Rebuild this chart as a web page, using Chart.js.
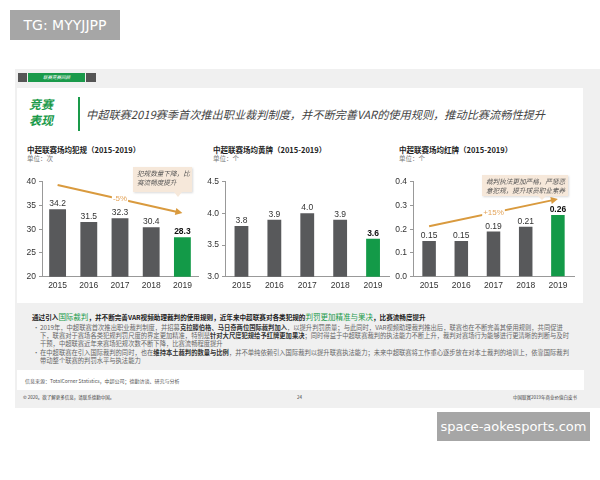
<!DOCTYPE html>
<html lang="zh">
  <head>
    <meta charset="UTF-8" />
    <title>中超联赛 竞赛表现</title>
    <script src="https://cdn.jsdelivr.net/npm/chart.js@4.4.1/dist/chart.umd.min.js"></script>
    <style>
      body { margin: 0; width: 600px; height: 480px; position: relative; background: #fff; overflow: hidden;
             font-family: "Noto Sans CJK SC", "Noto Sans", sans-serif; }
      .abs { position: absolute; }
      .wm { background: #a6a6a6; color: #fff; font-family: "DejaVu Sans", sans-serif; }
      .ctitle { font-size: 7.5px; font-weight: bold; color: #222; white-space: nowrap; }
      .cunit { font-size: 6.5px; color: #777; white-space: nowrap; }
      .callout { background: #f6e8da; box-shadow: 1px 1px 2px rgba(0,0,0,0.15); font-size: 6.6px; font-style: italic;
                 color: #555; line-height: 9px; padding: 2px 4px; box-sizing: border-box; white-space: nowrap; }
      .body { font-size: 6.3px; color: #666; white-space: nowrap; line-height: 8px; }
      .body b { color: #333; }
      .g { color: #1a9a4a; }
    </style>
  </head>
  <body>
    <div class="abs wm" style="left:10px;top:10px;width:110px;height:30px;font-size:14px;line-height:30px;text-align:center;">TG: MYYJJPP</div>

    <!-- slide -->
    <div class="abs" style="left:15px;top:69px;width:585px;height:339px;background:#f0f0f0;"></div>
    <div class="abs" style="left:17px;top:88px;width:566px;height:215px;background:#fff;"></div>
    <div class="abs" style="left:17px;top:370px;width:567px;height:20px;background:#fff;"></div>

    <!-- tab -->
    <div class="abs" style="left:18px;top:73px;width:9px;height:9px;background:#555;"></div>
    <div class="abs" style="left:28px;top:73px;width:57px;height:9px;background:#1a9a4a;color:#fff;font-size:4.5px;line-height:9px;text-align:center;font-style:italic;">联赛竞赛回顾</div>
    <div class="abs" style="left:86px;top:73px;width:10px;height:9px;background:#555;"></div>

    <!-- header -->
    <div class="abs" style="left:29px;top:96px;font-size:12px;line-height:16px;color:#1a9a4a;font-style:italic;font-weight:bold;">竞赛<br />表现</div>
    <div class="abs" style="left:78px;top:97px;width:2px;height:34px;background:#1a9a4a;"></div>
    <div class="abs" style="left:86px;top:106px;font-size:11.2px;line-height:16px;color:#444;font-style:italic;white-space:nowrap;">中超联赛2019赛季首次推出职业裁判制度，并不断完善VAR的使用规则，推动比赛流畅性提升</div>

    <!-- chart titles -->
    <div class="abs ctitle" style="left:27px;top:144px;">中超联赛场均犯规（2015-2019）</div>
    <div class="abs cunit" style="left:27px;top:153px;">单位：次</div>
    <div class="abs ctitle" style="left:213px;top:144px;">中超联赛场均黄牌（2015-2019）</div>
    <div class="abs cunit" style="left:213px;top:153px;">单位：个</div>
    <div class="abs ctitle" style="left:399px;top:144px;">中超联赛场均红牌（2015-2019）</div>
    <div class="abs cunit" style="left:399px;top:153px;">单位：个</div>

    <canvas id="fouls" class="abs" width="180" height="125" style="left:20px;top:170px;"></canvas>
    <canvas id="yellows" class="abs" width="191" height="125" style="left:201px;top:170px;"></canvas>
    <canvas id="reds" class="abs" width="186" height="125" style="left:391px;top:170px;"></canvas>

    <div class="abs callout" style="left:133px;top:167px;width:59px;height:25px;">犯规数量下降，比<br />赛流畅度提升</div>
    <div class="abs" style="left:174px;top:192px;width:0;height:0;border-top:5px solid #f6e8da;border-left:4px solid transparent;border-right:4px solid transparent;"></div>
    <div class="abs callout" style="left:482px;top:175px;width:86px;height:21px;">裁判执法更加严格，严惩恶<br />意犯规，提升球员职业素养</div>
    <div class="abs" style="left:538px;top:196px;width:0;height:0;border-top:4px solid #f6e8da;border-left:4px solid transparent;border-right:4px solid transparent;"></div>

    <!-- text block -->
    <div class="abs body" style="left:32px;top:313px;font-size:6.6px;color:#222;font-weight:bold;">通过引入<span class="g" style="font-weight:normal;font-size:7.5px;">国际裁判</span>，并不断完善VAR视频助理裁判的使用规则，近年来中超联赛对各类犯规的<span class="g" style="font-weight:normal;font-size:7.5px;">判罚更加精准与果决</span>，比赛流畅度提升</div>
    <div class="abs body" style="left:33px;top:324px;">•</div>
    <div class="abs body" style="left:40px;top:324px;">2019年，中超联赛首次推出职业裁判制度，并招募<b>克拉滕伯格、马日奇两位国际裁判加入</b>，以提升判罚质量；与此同时，VAR视频助理裁判推出后，联赛也在不断完善其使用规则，共同促进<br />下，联赛对于赛场各类犯规判罚尺度的界定更加精准，特别是<b>针对大尺度犯规给予红牌更加果决</b>；同时得益于中超联赛裁判的执法能力不断上升，裁判对赛场行为能够进行更清晰的判断与及时<br />干预，中超联赛近年来赛场犯规次数不断下降，比赛流畅程度提升</div>
    <div class="abs body" style="left:33px;top:349px;">•</div>
    <div class="abs body" style="left:40px;top:349px;">在中超联赛在引入国际裁判的同时，也在<b>维持本土裁判的数量与比例</b>，并不单纯依赖引入国际裁判以提升联赛执法能力；未来中超联赛将工作重心逐步放在对本土裁判的培训上，依靠国际裁判<br />带动整个联赛的判罚水平与执法能力</div>

    <div class="abs" style="left:25px;top:377px;font-size:5px;color:#555;white-space:nowrap;">信息来源：TotalCorner Statistics，中超公司；德勤访谈、研究与分析</div>
    <div class="abs" style="left:23px;top:394px;font-size:4.5px;color:#444;white-space:nowrap;">© 2020。欲了解更多信息，请联系德勤中国。</div>
    <div class="abs" style="left:297px;top:394px;font-size:4.5px;color:#444;">24</div>
    <div class="abs" style="left:513px;top:394px;font-size:4.5px;color:#444;white-space:nowrap;">中国联赛2019年商业价值白皮书</div>

    <div class="abs wm" style="left:437px;top:412px;width:153px;height:29px;font-size:13px;line-height:29px;text-align:center;">space-aokesports.com</div>

    <script>
      const years = ["2015", "2016", "2017", "2018", "2019"];
      const fouls = [34.2, 31.5, 32.3, 30.4, 28.3];
      const yellows = [3.8, 3.9, 4.0, 3.9, 3.6];
      const reds = [0.15, 0.15, 0.19, 0.21, 0.26];

      // trend arrows: value at first year, value at last year
      const foulTrend = [39.3, 33.4];
      const foulTrendLabel = "-5%";
      const redTrend = [0.212, 0.327];
      const redTrendLabel = "+15%";

      const GRAY = "#58595b";
      const GREEN = "#139a48";
      const numFont = "'Liberation Sans Narrow', 'Liberation Sans', sans-serif";

      // values above bars
      const valueLabels = {
        id: "valueLabels",
        afterDatasetsDraw(chart, args, opts) {
          const ctx = chart.ctx;
          const meta = chart.getDatasetMeta(0);
          ctx.save();
          ctx.textAlign = "center";
          ctx.textBaseline = "bottom";
          meta.data.forEach((bar, i) => {
            const last = i === meta.data.length - 1;
            ctx.font = (last ? "bold " : "") + "8.5px " + numFont;
            ctx.fillStyle = last ? "#111" : "#333";
            ctx.fillText(chart.data.datasets[0].data[i].toFixed(opts.decimals), bar.x, bar.y - 1);
          });
          ctx.restore();
        },
      };

      // orange trend arrow with label
      const trendArrow = {
        id: "trendArrow",
        afterDatasetsDraw(chart, args, opts) {
          if (!opts.values) return;
          const ctx = chart.ctx;
          const xs = chart.scales.x, ys = chart.scales.y;
          const x1 = xs.getPixelForValue(0), y1 = ys.getPixelForValue(opts.values[0]);
          const x2 = xs.getPixelForValue(years.length - 1), y2 = ys.getPixelForValue(opts.values[1]);
          const ang = Math.atan2(y2 - y1, x2 - x1);
          ctx.save();
          ctx.strokeStyle = "#d99a3e";
          ctx.fillStyle = "#d99a3e";
          ctx.lineWidth = 2;
          ctx.beginPath();
          ctx.moveTo(x1, y1);
          ctx.lineTo(x2 - 4 * Math.cos(ang), y2 - 4 * Math.sin(ang));
          ctx.stroke();
          ctx.beginPath();
          ctx.moveTo(x2, y2);
          ctx.lineTo(x2 - 7 * Math.cos(ang) + 3.5 * Math.sin(ang), y2 - 7 * Math.sin(ang) - 3.5 * Math.cos(ang));
          ctx.lineTo(x2 - 7 * Math.cos(ang) - 3.5 * Math.sin(ang), y2 - 7 * Math.sin(ang) + 3.5 * Math.cos(ang));
          ctx.closePath();
          ctx.fill();
          const mx = (x1 + x2) / 2, my = (y1 + y2) / 2;
          ctx.font = "8px " + numFont;
          const w = ctx.measureText(opts.label).width;
          ctx.fillStyle = "#fff";
          ctx.fillRect(mx - w / 2 - 1, my - 4, w + 2, 8);
          ctx.fillStyle = "#e3a45a";
          ctx.textAlign = "center";
          ctx.textBaseline = "middle";
          ctx.fillText(opts.label, mx, my);
          ctx.restore();
        },
      };

      function makeChart(id, values, yMin, yMax, step, tickDec, labelDec, yWidth, padRight, trend, trendLabel) {
        return new Chart(id, {
          type: "bar",
          data: {
            labels: years,
            datasets: [
              {
                data: values,
                backgroundColor: values.map((v, i) => (i === values.length - 1 ? GREEN : GRAY)),
                categoryPercentage: 1,
                barPercentage: id === "fouls" ? 0.54 : 0.42,
              },
            ],
          },
          options: {
            responsive: false,
            animation: false,
            layout: { padding: { top: 11.7, right: padRight, left: 0, bottom: 0 } },
            plugins: {
              legend: { display: false },
              tooltip: { enabled: false },
              valueLabels: { decimals: labelDec },
              trendArrow: { values: trend, label: trendLabel },
            },
            scales: {
              x: {
                grid: { display: false, drawTicks: false },
                border: { color: "#999" },
                ticks: { color: "#333", font: { size: 8.5, family: numFont }, padding: 4 },
                afterFit(s) { s.height = 18.3; },
              },
              y: {
                min: yMin,
                max: yMax,
                grid: { drawOnChartArea: false, tickLength: 3, color: "#999" },
                border: { color: "#999" },
                ticks: {
                  stepSize: step,
                  color: "#333",
                  padding: 3,
                  font: { size: 8.5, family: numFont },
                  callback: (v) => Number(v).toFixed(tickDec),
                },
                afterFit(s) { s.width = yWidth; },
              },
            },
          },
          plugins: [valueLabels, trendArrow],
        });
      }

      makeChart("fouls", fouls, 20, 40, 5, 0, 1, 22, 2, foulTrend, foulTrendLabel);
      makeChart("yellows", yellows, 3.0, 4.5, 0.5, 1, 1, 24, 2.5, null, "");
      makeChart("reds", reds, 0, 0.4, 0.1, 1, 2, 22, 3, redTrend, redTrendLabel);
    </script>
  </body>
</html>
